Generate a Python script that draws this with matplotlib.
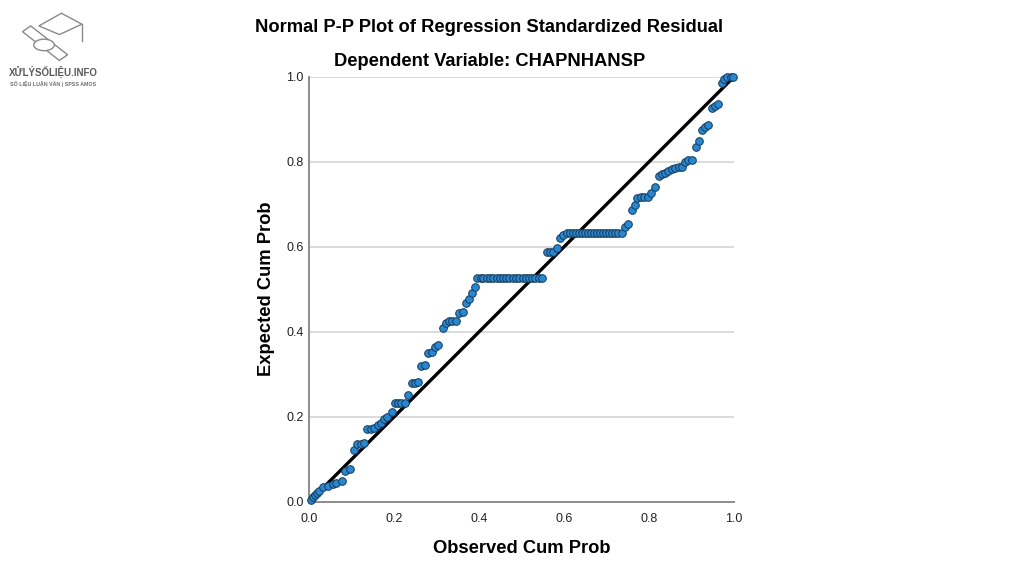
import matplotlib.pyplot as plt
from matplotlib.patches import Polygon, Circle

# observed vs expected cumulative probabilities
observed = [0.004, 0.009, 0.014, 0.019, 0.024, 0.033, 0.044, 0.056, 0.064, 0.076,
            0.084, 0.095, 0.106, 0.113, 0.121, 0.129, 0.137, 0.145, 0.153, 0.161,
            0.168, 0.176, 0.184, 0.194, 0.201, 0.209, 0.217, 0.225, 0.233, 0.241,
            0.249, 0.256, 0.264, 0.272, 0.280, 0.288, 0.296, 0.303, 0.314, 0.322,
            0.329, 0.337, 0.345, 0.353, 0.361, 0.369, 0.376, 0.384, 0.390,
            0.395, 0.403, 0.410, 0.418, 0.426, 0.433, 0.441, 0.448, 0.456, 0.464,
            0.471, 0.479, 0.486, 0.494, 0.502, 0.509, 0.517, 0.524, 0.532, 0.540,
            0.547,
            0.559, 0.566, 0.574, 0.584, 0.590, 0.598,
            0.606, 0.613, 0.620, 0.627, 0.634, 0.641, 0.649, 0.656, 0.663, 0.670,
            0.677, 0.684, 0.692, 0.699, 0.706, 0.713, 0.720, 0.727, 0.735,
            0.743, 0.751, 0.759, 0.767, 0.772, 0.780, 0.788, 0.796, 0.804, 0.814,
            0.822, 0.830, 0.837, 0.845, 0.853, 0.861, 0.869, 0.877, 0.885, 0.892,
            0.900, 0.910, 0.916, 0.924, 0.932, 0.939, 0.947, 0.955, 0.963, 0.971,
            0.977, 0.984, 0.992, 0.998]
expected = [0.005, 0.010, 0.016, 0.020, 0.024, 0.035, 0.037, 0.042, 0.045, 0.049,
            0.073, 0.076, 0.122, 0.135, 0.136, 0.137, 0.170, 0.170, 0.173, 0.180,
            0.186, 0.194, 0.199, 0.212, 0.233, 0.233, 0.233, 0.233, 0.251, 0.279,
            0.280, 0.282, 0.319, 0.322, 0.349, 0.351, 0.365, 0.369, 0.408, 0.421,
            0.424, 0.424, 0.424, 0.443, 0.447, 0.468, 0.476, 0.492, 0.504,
            0.527, 0.527, 0.527, 0.527, 0.527, 0.527, 0.527, 0.527, 0.527, 0.527,
            0.527, 0.527, 0.527, 0.527, 0.527, 0.527, 0.527, 0.527, 0.527, 0.527,
            0.527,
            0.587, 0.587, 0.588, 0.596, 0.620, 0.628,
            0.632, 0.632, 0.632, 0.632, 0.632, 0.632, 0.632, 0.632, 0.632, 0.632,
            0.632, 0.632, 0.632, 0.632, 0.632, 0.632, 0.632, 0.632, 0.632,
            0.646, 0.653, 0.686, 0.698, 0.714, 0.716, 0.716, 0.716, 0.726, 0.741,
            0.766, 0.771, 0.773, 0.779, 0.782, 0.784, 0.787, 0.787, 0.800, 0.804,
            0.804, 0.835, 0.849, 0.875, 0.882, 0.886, 0.926, 0.931, 0.935, 0.986,
            0.994, 0.999, 1.000, 1.000]
ticks = [0.0, 0.2, 0.4, 0.6, 0.8, 1.0]
tick_labels = ['0.0', '0.2', '0.4', '0.6', '0.8', '1.0']

plt.rcParams['font.family'] = ['Liberation Sans', 'DejaVu Sans']

fig = plt.figure(figsize=(10.24, 5.76), dpi=100)
ax = fig.add_axes([0.302, 0.129, 0.415, 0.738])

for t in ticks[1:]:
    ax.axhline(t, color='#d4d4d4', lw=1.2, zorder=0)
ax.plot([0, 1], [0, 1], color='black', lw=2.4, zorder=2)
ax.scatter(observed, expected, s=30, facecolor='#1f8ad9', edgecolor='#1d3550',
           linewidths=0.7, zorder=3, clip_on=False)

ax.set_xlim(0, 1)
ax.set_ylim(0, 1)
ax.set_xticks(ticks)
ax.set_xticklabels(tick_labels)
ax.set_yticks(ticks)
ax.set_yticklabels(tick_labels)
ax.tick_params(length=0, labelsize=9, colors='#222222')
ax.tick_params(axis='x', pad=8)
ax.tick_params(axis='y', pad=4)
for side in ['top', 'right']:
    ax.spines[side].set_visible(False)
for side in ['left', 'bottom']:
    ax.spines[side].set_color('#8c8c8c')
    ax.spines[side].set_linewidth(1.4)

ax.set_xlabel('Observed Cum Prob', fontsize=13.2, fontweight='bold', labelpad=11)
ax.set_ylabel('Expected Cum Prob', fontsize=13.2, fontweight='bold', labelpad=8)

fig.text(0.478, 0.953, 'Normal P-P Plot of Regression Standardized Residual',
         ha='center', va='center', fontsize=13.2, fontweight='bold')
fig.text(0.478, 0.893, 'Dependent Variable: CHAPNHANSP',
         ha='center', va='center', fontsize=13.2, fontweight='bold')

# logo in the top left corner
fig.text(0.052, 0.875, 'XỬLÝSỐLIỆU.INFO', ha='center', va='center',
         fontsize=7, fontweight='bold', color='#5a5a5a')
fig.text(0.052, 0.855, 'SỐ LIỆU LUẬN VĂN | SPSS AMOS', ha='center', va='center',
         fontsize=3.8, fontweight='bold', color='#6a6a6a')
logo = '#8a8a8a'
cap = Polygon([[0.038, 0.955], [0.060, 0.977], [0.080, 0.958], [0.058, 0.940]],
              closed=True, fill=False, ec=logo, lw=1.0, transform=fig.transFigure)
scroll = Polygon([[0.022, 0.945], [0.030, 0.955], [0.066, 0.905], [0.058, 0.895]],
                 closed=True, fill=False, ec=logo, lw=1.0, transform=fig.transFigure)
seal = Circle((0.043, 0.922), 0.010, fill=True, fc='white', ec=logo, lw=1.0,
              transform=fig.transFigure, zorder=3)
fig.patches.extend([cap, scroll, seal])
fig.add_artist(plt.Line2D([0.080, 0.080], [0.958, 0.928], color=logo, lw=1.0,
                          transform=fig.transFigure))

fig.savefig('out.png', dpi=100)
